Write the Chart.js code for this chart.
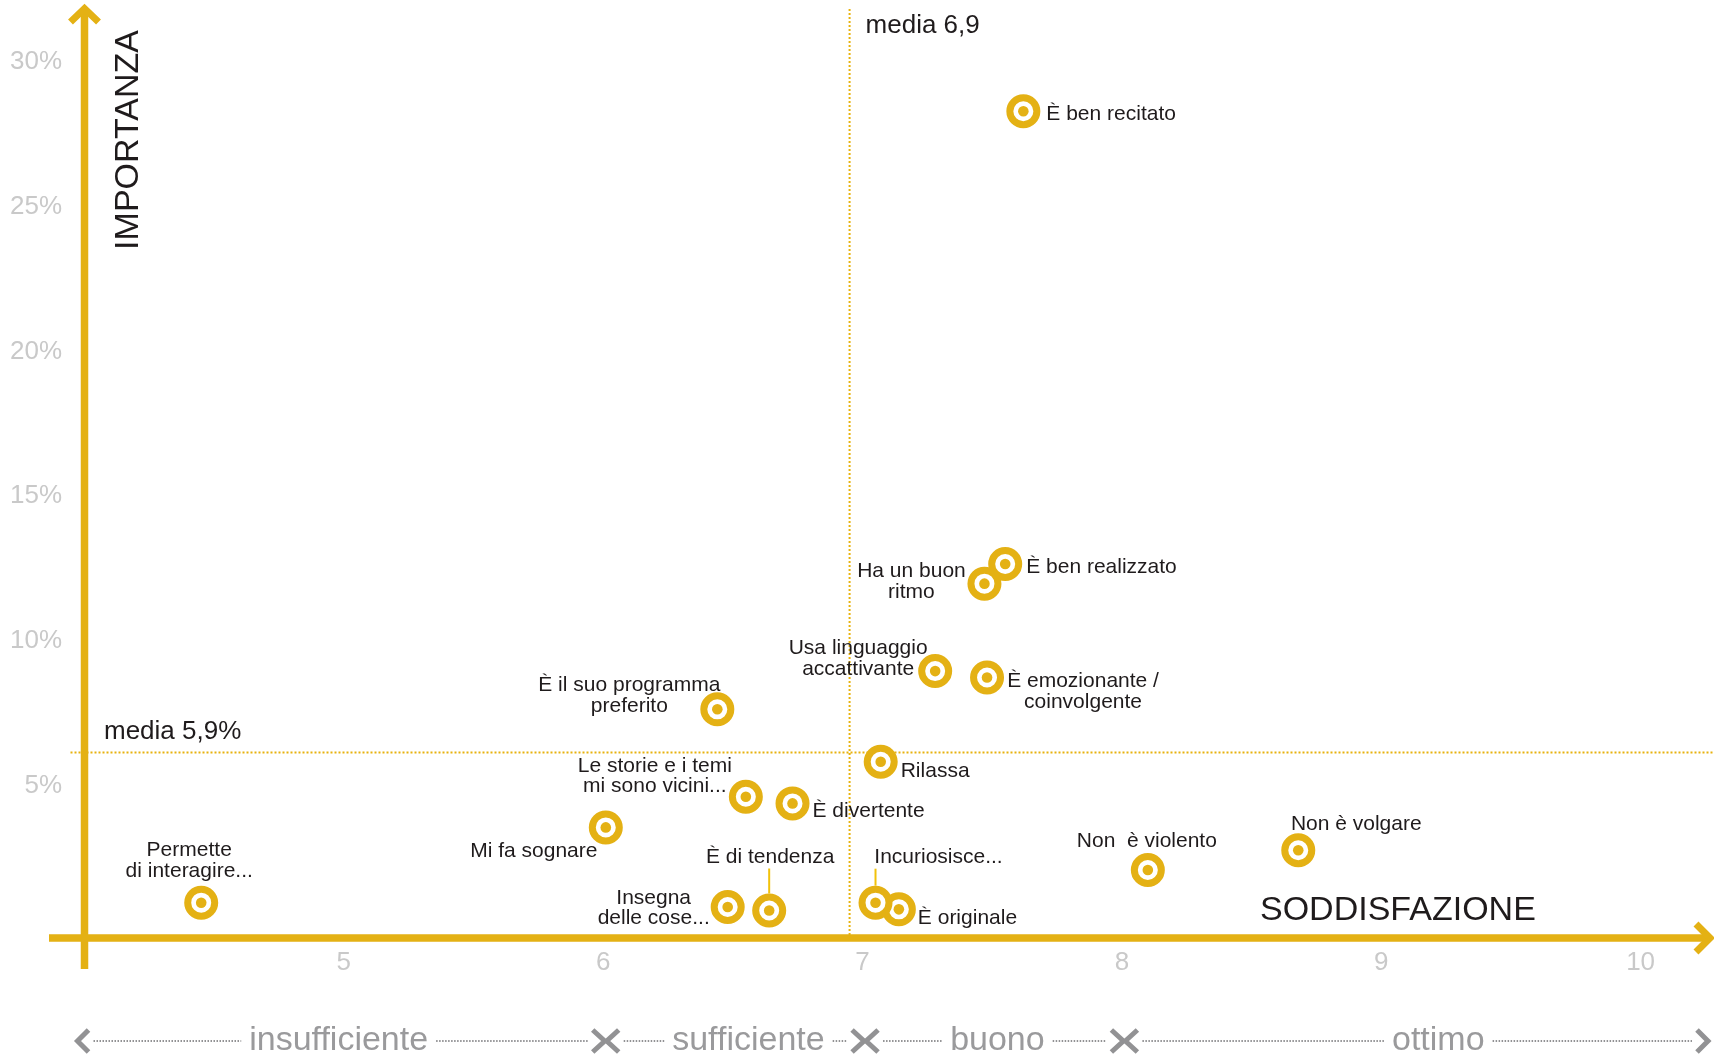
<!DOCTYPE html>
<html lang="it">
<head>
    <meta charset="UTF-8">
    <title>Importanza / Soddisfazione</title>
    <script src="https://cdn.jsdelivr.net/npm/chart.js"></script>
    <style>
        body {
            margin: 0;
            background: #fff;
        }

        .chart-box {
            position: relative;
            width: 1714px;
            height: 1057px;
        }
    </style>
</head>
<body>
    <div class="chart-box">
        <canvas id="matrixChart"></canvas>
    </div>

    <script>
        // driver names (\n = line break in the label)
        const drivers = [
            'È ben recitato',
            'Ha un buon\nritmo',
            'È ben realizzato',
            'Usa linguaggio\naccattivante',
            'È emozionante /\ncoinvolgente',
            'Rilassa',
            'È il suo programma\npreferito',
            'Le storie e i temi\nmi sono vicini...',
            'È divertente',
            'Mi fa sognare',
            'Insegna\ndelle cose...',
            'È di tendenza',
            'È originale',
            'Incuriosisce...',
            'Non  è violento',
            'Non è volgare',
            'Permette\ndi interagire...'
        ];
        // soddisfazione (voto) and importanza (%)
        const satisfaction = [7.62, 7.47, 7.55, 7.28, 7.48, 7.07, 6.44, 6.55, 6.73, 6.01, 6.48, 6.64, 7.14, 7.05, 8.10, 8.68, 4.45];
        const importance = [28.23, 11.91, 12.59, 8.89, 8.67, 5.76, 7.57, 4.55, 4.32, 3.49, 0.74, 0.62, 0.66, 0.89, 2.02, 2.70, 0.89];

        const xTicks = [5, 6, 7, 8, 9, 10];
        const yTicks = [5, 10, 15, 20, 25, 30];

        const meanSatisfaction = 6.95;
        const meanSatisfactionText = 'media 6,9';
        const meanImportance = 6.08;
        const meanImportanceText = 'media 5,9%';

        const bandNames = ['insufficiente', 'sufficiente', 'buono', 'ottimo'];
        const bandEdges = [6, 7, 8];
        const bandCenters = [4.98, 6.56, 7.52, 9.22];

        // where each label sits relative to its point: dx, dy (first line), align
        const labelPlacement = [
            [23, 3, 'left'], [-73, -12, 'center'], [21, 3, 'left'], [-77, -22.5, 'center'],
            [96, 4, 'center'], [20, 9, 'left'], [-88, -24, 'center'], [-91, -31, 'center'],
            [20, 8, 'left'], [-72, 24, 'center'], [-74, -9, 'center'], [1, -53, 'center'],
            [19, 8.5, 'left'], [63, -45, 'center'], [-1, -28.5, 'center'], [58, -26, 'center'],
            [-12, -52, 'center']
        ];
        const leaders = { 11: [-42, -17], 13: [-34, -17] };

        const GOLD = '#e4b114';
        const INK = '#1f1b1c';
        const FONT = "'Liberation Sans', Arial, sans-serif";

        const points = satisfaction.map((v, i) => ({ x: v, y: importance[i] }));

        function chevron(ctx, x0, y0, x1, y1, x2, y2) {
            ctx.beginPath();
            ctx.moveTo(x0, y0);
            ctx.lineTo(x1, y1);
            ctx.lineTo(x2, y2);
            ctx.stroke();
        }

        const matrixDecor = {
            id: 'matrixDecor',
            beforeDatasetsDraw(chart) {
                const { ctx, chartArea, scales: { x, y } } = chart;
                const ax = chartArea.left;
                const ay = chartArea.bottom;
                ctx.save();

                // mean lines
                ctx.strokeStyle = '#e8b20e';
                ctx.lineWidth = 2;
                ctx.setLineDash([2, 2]);
                const mx = x.getPixelForValue(meanSatisfaction);
                const my = y.getPixelForValue(meanImportance);
                ctx.beginPath();
                ctx.moveTo(mx, 9);
                ctx.lineTo(mx, ay);
                ctx.moveTo(ax - 14, my);
                ctx.lineTo(chart.width, my);
                ctx.stroke();
                ctx.setLineDash([]);

                ctx.fillStyle = INK;
                ctx.font = '26px ' + FONT;
                ctx.textBaseline = 'middle';
                ctx.textAlign = 'left';
                ctx.fillText(meanSatisfactionText, mx + 16, 25.5);
                ctx.fillText(meanImportanceText, ax + 19.5, my - 21);

                // axes with arrows
                ctx.strokeStyle = GOLD;
                ctx.lineWidth = 7.5;
                ctx.lineCap = 'butt';
                ctx.lineJoin = 'miter';
                ctx.beginPath();
                ctx.moveTo(ax, ay + 31);
                ctx.lineTo(ax, 9);
                ctx.moveTo(ax - 35.5, ay);
                ctx.lineTo(chart.width - 6, ay);
                ctx.stroke();
                ctx.lineWidth = 7;
                chevron(ctx, ax - 14, 22, ax, 8.5, ax + 14, 22);
                chevron(ctx, chart.width - 18, ay - 14, chart.width - 4, ay, chart.width - 18, ay + 14);

                // axis titles
                ctx.fillStyle = INK;
                ctx.font = '34px ' + FONT;
                ctx.save();
                ctx.translate(ax + 44.5, 140);
                ctx.rotate(-Math.PI / 2);
                ctx.textAlign = 'center';
                ctx.fillText('IMPORTANZA', 0, 0);
                ctx.restore();
                ctx.textAlign = 'left';
                ctx.fillText('SODDISFAZIONE', 1260, ay - 27);

                // rating bands along the bottom
                const sy = 1041;
                const leftTip = ax - 9;
                const rightTip = chart.width - 4;
                ctx.strokeStyle = '#929294';
                ctx.lineWidth = 5;
                const blocks = [[leftTip, leftTip + 14]];
                chevron(ctx, leftTip + 13, sy - 11, leftTip + 2, sy, leftTip + 13, sy + 11);
                bandEdges.forEach(v => {
                    const sx = x.getPixelForValue(v) + 2.5;
                    chevron(ctx, sx - 13, sy - 11, sx - 1, sy, sx - 13, sy + 11);
                    chevron(ctx, sx + 13, sy - 11, sx + 1, sy, sx + 13, sy + 11);
                    blocks.push([sx - 14, sx + 14]);
                });
                chevron(ctx, rightTip - 13, sy - 11, rightTip - 2, sy, rightTip - 13, sy + 11);
                blocks.push([rightTip - 14, rightTip]);

                ctx.fillStyle = '#9a9a9c';
                ctx.font = '34px ' + FONT;
                ctx.textAlign = 'center';
                ctx.textBaseline = 'alphabetic';
                bandNames.forEach((name, i) => {
                    const cx = x.getPixelForValue(bandCenters[i]);
                    const w = ctx.measureText(name).width;
                    ctx.fillText(name, cx, 1050);
                    blocks.push([cx - w / 2 - 4, cx + w / 2 + 4]);
                });
                blocks.sort((a, b) => a[0] - b[0]);
                ctx.lineWidth = 2;
                ctx.setLineDash([1.5, 1.5]);
                ctx.beginPath();
                for (let i = 0; i < blocks.length - 1; i++) {
                    const s = blocks[i][1] + 4;
                    const e = blocks[i + 1][0] - 4;
                    if (e > s) {
                        ctx.moveTo(s, sy);
                        ctx.lineTo(e, sy);
                    }
                }
                ctx.stroke();
                ctx.restore();
            },
            afterDatasetsDraw(chart) {
                const { ctx } = chart;
                const meta = chart.getDatasetMeta(1);
                ctx.save();
                ctx.fillStyle = INK;
                ctx.font = '21px ' + FONT;
                ctx.textBaseline = 'middle';
                meta.data.forEach((pt, i) => {
                    const [dx, dy, align] = labelPlacement[i];
                    ctx.textAlign = align;
                    drivers[i].split('\n').forEach((line, k) => {
                        ctx.fillText(line, pt.x + dx, pt.y + dy + k * 20.5);
                    });
                    if (leaders[i]) {
                        ctx.strokeStyle = '#f2c20a';
                        ctx.lineWidth = 2;
                        ctx.beginPath();
                        ctx.moveTo(pt.x, pt.y + leaders[i][0]);
                        ctx.lineTo(pt.x, pt.y + leaders[i][1]);
                        ctx.stroke();
                    }
                });
                ctx.restore();
            }
        };

        new Chart(document.getElementById('matrixChart'), {
            type: 'scatter',
            data: {
                datasets: [{
                    label: 'centro',
                    data: points,
                    order: 1,
                    pointRadius: 5.3,
                    pointHoverRadius: 5.3,
                    pointBorderWidth: 0,
                    pointBackgroundColor: GOLD,
                    clip: false
                }, {
                    label: 'anello',
                    data: points,
                    order: 2,
                    pointRadius: 13.5,
                    pointHoverRadius: 13.5,
                    pointBorderWidth: 7,
                    pointBorderColor: GOLD,
                    pointBackgroundColor: '#fff',
                    clip: false
                }]
            },
            options: {
                responsive: true,
                maintainAspectRatio: false,
                animation: false,
                events: [],
                layout: {
                    padding: { top: 60, right: 73.4, bottom: 0, left: 0 }
                },
                scales: {
                    x: {
                        type: 'linear',
                        min: 4,
                        max: 10,
                        afterBuildTicks: scale => { scale.ticks = xTicks.map(v => ({ value: v })); },
                        afterFit: scale => { scale.height = 119; },
                        grid: { display: false, drawTicks: false },
                        border: { display: false },
                        ticks: {
                            color: '#c9c9c9',
                            padding: 9.5,
                            font: { family: FONT, size: 26 }
                        }
                    },
                    y: {
                        type: 'linear',
                        min: -0.33,
                        max: 30,
                        afterBuildTicks: scale => { scale.ticks = yTicks.map(v => ({ value: v })); },
                        afterFit: scale => { scale.width = 84.5; },
                        grid: { display: false, drawTicks: false },
                        border: { display: false },
                        ticks: {
                            color: '#c9c9c9',
                            padding: 22.5,
                            labelOffset: 2,
                            font: { family: FONT, size: 26 },
                            callback: v => v + '%'
                        }
                    }
                },
                plugins: {
                    legend: { display: false },
                    tooltip: { enabled: false }
                }
            },
            plugins: [matrixDecor]
        });
    </script>
</body>
</html>
